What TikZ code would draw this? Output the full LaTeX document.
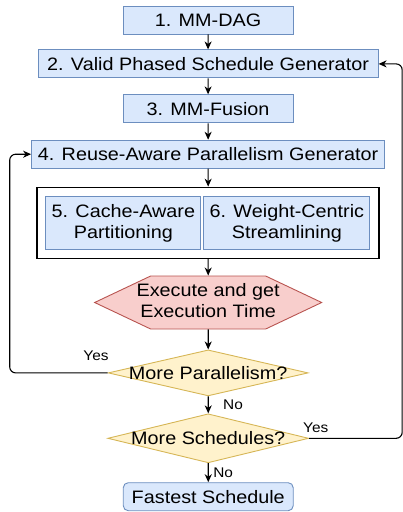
\documentclass[tikz,border=0pt]{standalone}
\usepackage{fontspec}
\setmainfont{Liberation Sans}
\usetikzlibrary{arrows.meta,positioning,shapes.geometric,shapes.symbols}
\definecolor{SBlue}{HTML}{DAE8FC}
\definecolor{SBlueLine}{HTML}{6C8EBF}
\definecolor{SRed}{HTML}{F8CECC}
\definecolor{SRedLine}{HTML}{B85450}
\definecolor{SYellow}{HTML}{FFF2CC}
\definecolor{SYellowLine}{HTML}{D6B656}

\begin{document}
\begin{tikzpicture}[xscale=1.1,transform shape,
    >={Stealth[length=8pt,width=7pt,inset=2.5pt]},
    font=\fontsize{18}{21}\selectfont,
    stagebox/.style={draw=SBlueLine,line width=0.9pt,fill=SBlue,align=center,minimum height=28pt,inner sep=2pt},
    check/.style={shape=diamond,draw=SYellowLine,line width=0.9pt,fill=SYellow,inner sep=0pt},
    lbl/.style={font=\fontsize{14}{16}\selectfont,inner sep=1pt},
    link/.style={->,line width=1.1pt,black}]
    \useasboundingbox (0,0) rectangle (365.5pt,-512pt);

    % main column
    \node[stagebox,minimum width=154.5pt] (dag) at (189.1pt,-20pt) {1. MM-DAG};
    \node[stagebox,minimum width=309.1pt,below=15pt of dag] (phased) {2. Valid Phased Schedule Generator};
    \node[stagebox,minimum width=154.5pt,below=16pt of phased] (fusion) {3. MM-Fusion};
    \node[stagebox,minimum width=320.9pt,below=16.5pt of fusion] (reuse) {4. Reuse-Aware Parallelism Generator};

    % frame holding steps 5 and 6
    \node[draw,line width=1.4pt,minimum width=310.9pt,minimum height=71pt,below=18pt of reuse] (tuning) {};
    \node[stagebox,minimum width=140.9pt,minimum height=53pt,right=8.2pt of tuning.west] (cache) {5. Cache-Aware\\Partitioning};
    \node[stagebox,minimum width=150.9pt,minimum height=53pt,right=1.8pt of cache] (weight) {6. Weight-Centric\\Streamlining};

    \node[shape=signal,signal to=west and east,signal pointer angle=55,draw=SRedLine,line width=0.9pt,fill=SRed,
          inner sep=0pt,minimum width=206.4pt,minimum height=53pt,below=16.5pt of tuning] (execute)
          {\makebox[0pt]{\begin{tabular}{@{}c@{}}Execute and get\\Execution Time\end{tabular}}};

    \node[check,minimum width=181.8pt,minimum height=46pt,below=20pt of execute] (morepar) {\makebox[0pt]{More Parallelism?}};
    \node[check,minimum width=182.7pt,minimum height=49pt,below=17pt of morepar] (moresched) {\makebox[0pt]{More Schedules?}};
    \node[stagebox,rounded corners=5pt,minimum width=154.5pt,below=19pt of moresched] (fastest) {Fastest Schedule};

    % forward flow
    \draw[link] (dag) -- (phased);
    \draw[link] (phased) -- (fusion);
    \draw[link] (fusion) -- (reuse);
    \draw[link] (reuse) -- (tuning);
    \draw[link] (tuning) -- (execute);
    \draw[link] (execute) -- (morepar);
    \draw[link] (morepar) -- node[lbl,right=12pt] (no1) {No} (moresched);
    \draw[link] (moresched) -- node[lbl,right=3pt] (no2) {No} (fastest);

    % feedback loops
    \draw[link,rounded corners=6pt] (morepar.west) -- node[lbl,above,pos=0.12,yshift=11pt] (yes1) {Yes}
        ++(-89.1pt,0) |- (reuse.west);
    \draw[link,rounded corners=6pt] (moresched.east) -- node[lbl,above right,pos=0,xshift=-7pt,yshift=4pt] (yes2) {Yes}
        ++(84.5pt,0) |- (phased.east);
\end{tikzpicture}
\end{document}
